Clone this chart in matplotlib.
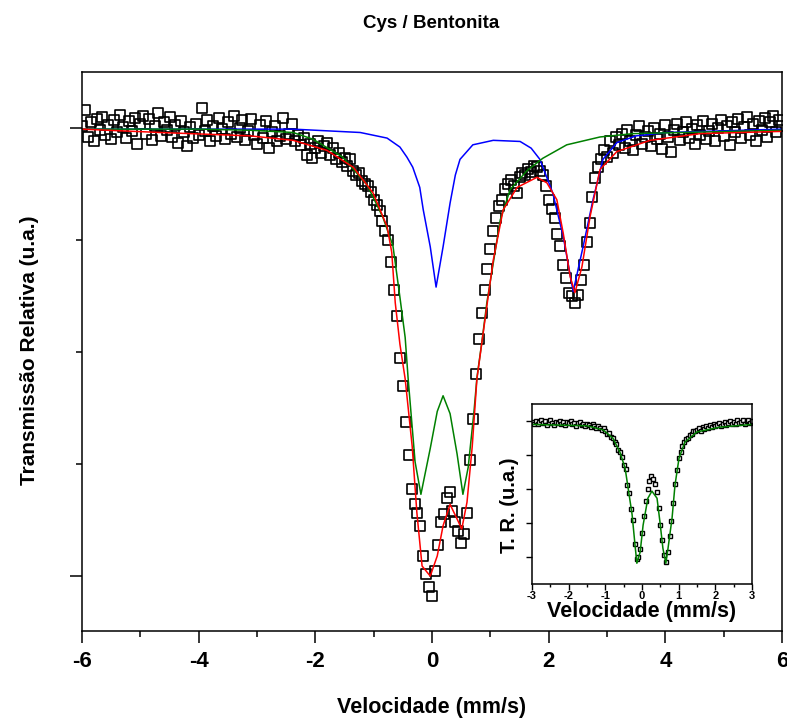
import numpy as np
import matplotlib
matplotlib.use("Agg")
import matplotlib.pyplot as plt
from matplotlib.ticker import MultipleLocator, FixedLocator
from matplotlib.markers import MarkerStyle

plt.rcParams['font.family'] = ['Liberation Sans', 'DejaVu Sans']
plt.rcParams['font.weight'] = 'bold'
plt.rcParams['axes.unicode_minus'] = False

# ---- main spectrum: relative transmission (offset from baseline), v = -6..6 mm/s
trans = [
    0.02, 0.16, -0.08, 0.05, -0.12, 0.08, -0.02, 0.10, -0.06, 0.03,
    -0.10, 0.07, -0.04, 0.12, 0.01, -0.09, 0.06, -0.03, 0.09, -0.14,
    0.04, 0.11, -0.05, 0.08, -0.11, 0.02, 0.13, -0.07, 0.05, -0.02,
    0.10, -0.08, 0.03, -0.13, 0.06, -0.04, -0.16, 0.01, -0.09, 0.04,
    -0.06, 0.18, -0.03, 0.07, -0.12, 0.02, -0.07, 0.09, -0.01, -0.10,
    0.05, -0.05, 0.11, -0.08, 0.00, 0.07, -0.11, -0.03, 0.08, -0.06,
    -0.14, 0.03, -0.09, 0.06, -0.18, -0.04, 0.02, -0.12, -0.07, 0.09,
    -0.10,
    -0.05, 0.04, -0.12, -0.06, -0.15, -0.09, -0.24, -0.14, -0.27,
    -0.18, -0.12, -0.22, -0.16, -0.13, -0.24, -0.18, -0.28, -0.22, -0.30,
    -0.27, -0.34, -0.28, -0.38, -0.42, -0.40, -0.47, -0.50, -0.52, -0.57,
    -0.64, -0.69, -0.74, -0.83, -0.92, -1.00, -1.20, -1.45, -1.68, -2.05,
    -2.30, -2.62, -2.92, -3.22, -3.36, -3.44, -3.55, -3.82, -3.98, -4.10,
    -4.18, -3.95, -3.72, -3.52, -3.45, -3.30, -3.25, -3.42, -3.52, -3.60,
    -3.70, -3.62, -3.44, -2.96, -2.60, -2.20, -1.88, -1.65, -1.45, -1.26,
    -1.08, -0.92, -0.80, -0.70, -0.64, -0.54, -0.50, -0.46, -0.52, -0.58,
    -0.44, -0.40, -0.42, -0.37, -0.39, -0.34, -0.35, -0.38, -0.42, -0.52,
    -0.64, -0.72, -0.80, -0.95, -1.05, -1.22, -1.34, -1.47, -1.50, -1.56,
    -1.49, -1.36, -1.22, -1.02, -0.85, -0.62, -0.45, -0.35, -0.28, -0.20,
    -0.26,
    -0.12, -0.22, -0.08, -0.15, -0.05, -0.18, -0.02, -0.12, -0.20,
    -0.06, 0.02, -0.14, -0.08, -0.03, -0.16, 0.00, -0.10, -0.05, -0.19,
    0.03, -0.08, -0.21, -0.02, 0.04, -0.11, -0.04, 0.05, -0.09, -0.01,
    -0.14, 0.03, -0.06, 0.06, -0.10, -0.03, 0.04, -0.12, 0.00, 0.07,
    -0.07, 0.02, -0.15, 0.05, -0.04, 0.08, -0.09, 0.01, 0.10, -0.06,
    0.04, -0.12, 0.06, -0.02, 0.09, -0.08, 0.05, 0.11, -0.04, 0.07,
    0.02,
]
velocity = np.linspace(-6, 6, len(trans))

# total fit (red)
fit_v = [-6.0, -4.66, -3.12, -2.38, -1.80, -1.35, -1.01, -0.77, -0.69, -0.63,
         -0.55, -0.46, -0.34, -0.26, -0.17, -0.03, 0.09, 0.19, 0.31, 0.43,
         0.51, 0.60, 0.69, 0.77, 0.94, 1.05, 1.22, 1.46, 1.80, 1.97,
         2.14, 2.25, 2.37, 2.45, 2.57, 2.71, 2.88, 3.17, 3.74, 4.60, 6.0]
fit_t = [-0.01, -0.04, -0.07, -0.11, -0.20, -0.35, -0.58, -0.88, -1.11, -1.56,
         -1.93, -2.24, -2.84, -3.43, -3.91, -4.00, -3.82, -3.55, -3.36, -3.49,
         -3.58, -3.34, -2.84, -2.24, -1.59, -1.18, -0.73, -0.53, -0.44, -0.49,
         -0.64, -0.94, -1.33, -1.47, -1.24, -0.79, -0.37, -0.21, -0.11, -0.05, -0.03]

# doublet component (green)
dbl_v = [-6.0, -3.98, -3.12, -2.38, -2.04, -1.53, -1.11, -0.84, -0.67, -0.55,
         -0.46, -0.41, -0.29, -0.19, -0.03, 0.09, 0.19, 0.31, 0.43, 0.53,
         0.62, 0.72, 0.77, 0.86, 0.94, 1.17, 1.34, 1.63, 1.90, 2.31,
         2.88, 3.45, 6.0]
dbl_t = [-0.01, -0.01, -0.02, -0.04, -0.10, -0.26, -0.51, -0.80, -1.05, -1.51,
         -1.87, -2.23, -2.98, -3.27, -2.86, -2.53, -2.39, -2.55, -2.91, -3.27,
         -3.03, -2.53, -2.23, -1.89, -1.56, -0.82, -0.55, -0.38, -0.27, -0.15,
         -0.08, -0.05, -0.02]

# second doublet component (blue)
sec_v = [-6.0, -2.38, -1.23, -0.77, -0.55, -0.43, -0.33, -0.21, -0.15, -0.03,
         0.07, 0.19, 0.31, 0.40, 0.48, 0.70, 1.05, 1.51, 1.70, 1.85,
         2.07, 2.25, 2.42, 2.59, 2.76, 2.93, 3.17, 3.50, 4.03, 6.0]
sec_t = [-0.01, -0.01, -0.04, -0.09, -0.17, -0.26, -0.35, -0.53, -0.73, -1.06,
         -1.42, -1.06, -0.67, -0.42, -0.28, -0.15, -0.11, -0.12, -0.18, -0.28,
         -0.58, -0.97, -1.46, -1.06, -0.64, -0.28, -0.13, -0.07, -0.04, -0.01]

# ---- inset spectrum, v = -3..3 mm/s
ins_trans = [
    -0.02, -0.08, 0.01, -0.10, -0.04, 0.03, -0.07, -0.01, -0.11, -0.03,
    0.02, -0.06, -0.12, -0.02, -0.05, 0.01, -0.09, -0.04, -0.13, -0.03,
    -0.07, 0.00, -0.10, -0.05, -0.14, -0.06, -0.02, -0.11, -0.08, -0.15,
    -0.09,
    -0.12, -0.18, -0.10, -0.16, -0.21, -0.14, -0.20, -0.25, -0.22,
    -0.28, -0.38, -0.36, -0.48, -0.50, -0.63, -0.68, -0.85, -0.90,
    -1.05, -1.30, -1.42, -1.88, -2.12, -2.58, -2.90, -3.60, -4.05, -4.00,
    -3.75, -3.30, -2.80, -2.35, -2.00, -1.75, -1.62, -1.70, -1.85, -2.10,
    -2.55, -3.05, -3.50, -3.95, -4.15, -3.85, -3.38, -2.95, -2.42, -1.85,
    -1.45, -1.10, -0.90, -0.74, -0.62, -0.52, -0.50, -0.40, -0.38, -0.30,
    -0.28, -0.25,
    -0.22, -0.28, -0.18, -0.24, -0.14, -0.20, -0.12, -0.19, -0.08, -0.16,
    -0.11, -0.05, -0.14, -0.09, -0.02, -0.12, -0.06, 0.01, -0.10, -0.04,
    -0.08, 0.02, -0.07, -0.03, 0.03, -0.09, -0.01, 0.04, -0.05, 0.00,
]
ins_velocity = np.linspace(-3, 3, len(ins_trans))

ins_fit_v = [-3.0, -1.5, -1.06, -0.79, -0.60, -0.46, -0.38, -0.27, -0.19, -0.14,
             -0.05, 0.03, 0.16, 0.27, 0.41, 0.49, 0.57, 0.65, 0.71, 0.82,
             0.90, 1.01, 1.17, 1.50, 2.13, 3.0]
ins_fit_t = [-0.10, -0.14, -0.26, -0.51, -0.92, -1.39, -1.96, -2.75, -3.65, -4.18,
             -3.85, -3.06, -2.27, -2.06, -2.27, -2.97, -3.74, -4.18, -3.74, -2.85,
             -1.88, -1.09, -0.62, -0.32, -0.18, -0.10]

W, H = 787, 720
fig = plt.figure(figsize=(W / 100, H / 100), dpi=100)

ax = fig.add_axes([82 / W, 1 - 631 / H, 700 / W, 559 / H])
ax.plot(velocity, trans, linestyle='none', marker=MarkerStyle('s', joinstyle='round'),
        markersize=7.5, markerfacecolor='none', markeredgecolor='black', markeredgewidth=1.2)
ax.plot(sec_v, sec_t, color='#0000ff', lw=1.1)
ax.plot(dbl_v, dbl_t, color='#008000', lw=1.1)
ax.plot(fit_v, fit_t, color='#ff0000', lw=1.1)

ax.set_xlim(-6, 6)
ax.set_ylim(-4.49, 0.5)
ax.xaxis.set_major_locator(MultipleLocator(2))
ax.xaxis.set_minor_locator(MultipleLocator(1))
ax.yaxis.set_major_locator(FixedLocator([0, -4]))
ax.yaxis.set_minor_locator(FixedLocator([-1, -2, -3]))
ax.set_yticklabels([])
ax.tick_params(axis='both', which='major', direction='out', length=8.5, width=1.1)
ax.tick_params(axis='both', which='minor', direction='out', length=4.5, width=1.1)
ax.tick_params(axis='x', which='major', pad=6, labelsize=16)
for s in ax.spines.values():
    s.set_linewidth(1.1)

fig.text(432 / W, 1 - 708 / H, 'Velocidade (mm/s)', ha='center', va='center',
         fontsize=15.5, fontweight='bold')
fig.text(30 / W, 1 - 350 / H, 'Transmissão Relativa (u.a.)', ha='center', va='center',
         rotation=90, fontsize=15, fontweight='bold')
fig.text(431 / W, 1 - 23 / H, 'Cys / Bentonita', ha='center', va='center',
         fontsize=13.5, fontweight='bold')

# inset
axi = fig.add_axes([532 / W, 1 - 584 / H, 220 / W, 180 / H])
axi.plot(ins_velocity, ins_trans, linestyle='none', marker='s', markersize=3.5,
         markerfacecolor='white', markeredgecolor='black', markeredgewidth=1.0)
axi.plot(ins_fit_v, ins_fit_t, color='#008000', lw=1.1)
axi.set_xlim(-3, 3)
axi.set_ylim(-4.79, 0.5)
axi.xaxis.set_major_locator(MultipleLocator(1))
axi.xaxis.set_minor_locator(MultipleLocator(0.5))
axi.yaxis.set_major_locator(FixedLocator([0, -1, -2, -3, -4]))
axi.set_yticklabels([])
axi.tick_params(axis='both', which='major', direction='out', length=4, width=1, labelsize=8, pad=1)
axi.tick_params(axis='both', which='minor', direction='out', length=2, width=1)
for s in axi.spines.values():
    s.set_linewidth(1.1)
fig.text(642 / W, 1 - 611 / H, 'Velocidade (mm/s)', ha='center', va='center',
         fontsize=15.5, fontweight='bold')
fig.text(510 / W, 1 - 505 / H, 'T. R. (u.a.)', ha='center', va='center',
         rotation=90, fontsize=14.5, fontweight='bold')

fig.savefig('out.png', dpi=100)
